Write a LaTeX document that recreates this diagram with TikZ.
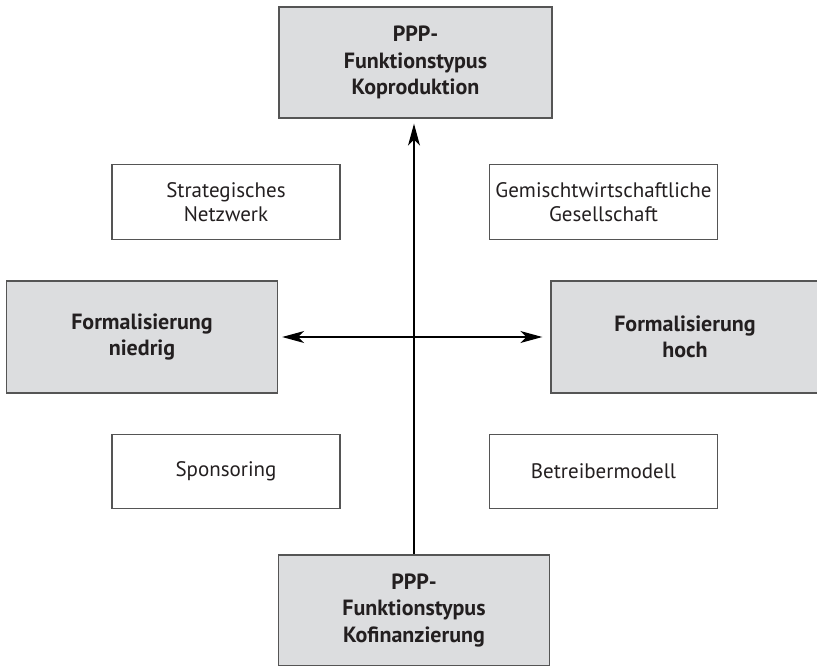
\documentclass[tikz,border=0pt]{standalone}
\usepackage{fontspec}
\setmainfont{PT Sans}
\usetikzlibrary{arrows.meta}
\definecolor{boxfill}{HTML}{DCDDDF}
\definecolor{boxline}{HTML}{555555}
\definecolor{ink}{HTML}{231F20}
\tikzset{
  basebox/.style={draw=boxline, line width=1.4pt, rectangle, align=center,
    inner sep=0pt, text=ink, font=\fontsize{21}{24.5}\selectfont},
  mainbox/.style={basebox, fill=boxfill, minimum width=271pt, minimum height=111pt,
    font=\fontsize{22}{26.5}\selectfont\bfseries},
  typbox/.style={basebox, fill=white, minimum width=228pt, minimum height=74.5pt},
  axis/.style={draw=black, line width=1.2pt,
    -{Stealth[length=22pt, width=12pt, inset=6pt]}},
  axisboth/.style={draw=black, line width=1.2pt,
    {Stealth[length=22pt, width=12pt, inset=6pt]}-{Stealth[length=22pt, width=12pt, inset=6pt]}}
}
\begin{document}
\begin{tikzpicture}[x=1pt, y=-1pt]
\useasboundingbox (0,0) rectangle (817,665);
\clip (0,0) rectangle (817,665);
\node[mainbox, minimum width=273pt] (top) at (415.5,62.5) {PPP-\\Funktionstypus\\Koproduktion};
\node[mainbox] (bottom) at (414,610.5) {PPP-\\Funktionstypus\\Kofinanzierung};
\node[mainbox, minimum height=112pt] (left) at (142,337) {Formalisierung\\niedrig};
\node[mainbox, minimum height=112pt, minimum width=268pt] (right) at (685,337) {Formalisierung\\hoch};
\node[typbox] (sn) at (226,202) {Strategisches\\Netzwerk};
\node[typbox] (gg) at (603.5,202) {Gemischtwirtschaftliche\\Gesellschaft};
\node[typbox] (sp) at (226,471.5) {Sponsoring};
\node[typbox] (bm) at (603.5,471.5) {Betreibermodell};
\draw[axisboth, shorten <=4pt, shorten >=8pt] (left.east) -- (right.west);
\draw[axis, shorten >=5pt] (bottom.north) -- (bottom.north |- top.south);
\end{tikzpicture}
\end{document}
